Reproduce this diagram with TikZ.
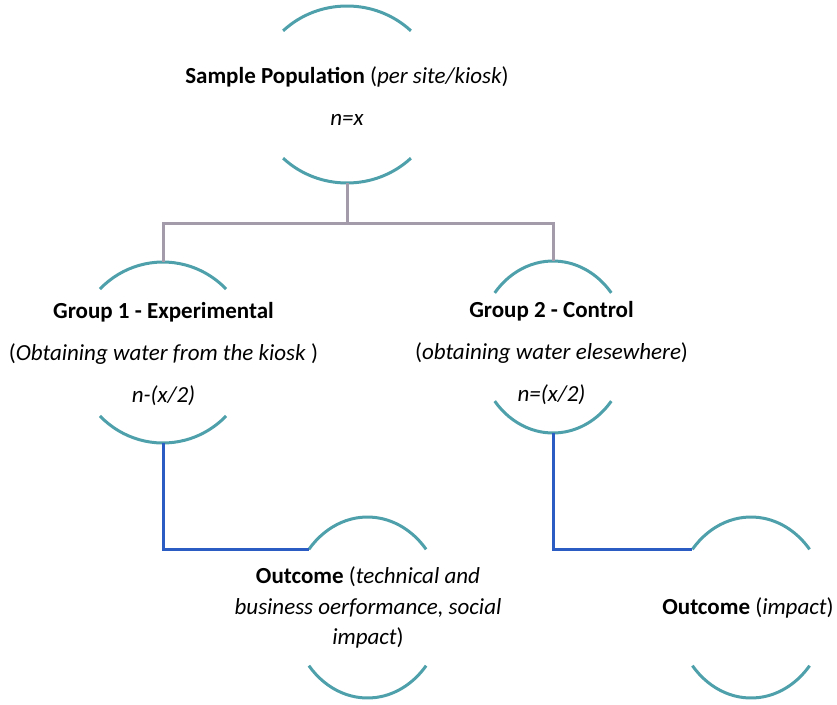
\documentclass[tikz,border=0pt]{standalone}
\usepackage{fontspec}
\setmainfont{Carlito}
\usetikzlibrary{shapes.geometric}
\definecolor{arcteal}{RGB}{78,160,170}
\definecolor{linkgrey}{RGB}{163,155,170}
\definecolor{linkblue}{RGB}{42,92,196}
\newcommand\ringarcs[4]{%
  \draw[ringarc] (#1.center) ++({90+#4}:#2 and #3) arc[start angle={90+#4}, end angle={90-#4}, x radius=#2, y radius=#3];
  \draw[ringarc] (#1.center) ++({270-#4}:#2 and #3) arc[start angle={270-#4}, end angle={270+#4}, x radius=#2, y radius=#3];}
\begin{document}
\begin{tikzpicture}[x=1pt,y=1pt,
  ringarc/.style={draw=arcteal, line width=3pt},
  greylink/.style={draw=linkgrey, line width=3pt},
  bluelink/.style={draw=linkblue, line width=3pt},
  ringshape/.style={ellipse, draw=none, inner sep=0pt},
  ringtext/.style={align=center, inner sep=0pt, font=\fontsize{23}{42}\selectfont},
  outtext/.style={align=center, inner sep=0pt, font=\fontsize{23}{30.5}\selectfont}]
\useasboundingbox (0,0) rectangle (837,-704);
% rings
\node[ringshape, minimum width=184pt, minimum height=177pt] (topring) at (347,-94.5) {};
\node[ringshape, minimum width=177pt, minimum height=181pt] (g1ring) at (163,-352.5) {};
\node[ringshape, minimum width=150pt, minimum height=172pt] (g2ring) at (553,-347) {};
\node[ringshape, minimum width=153pt, minimum height=181pt] (o1ring) at (367.5,-607.5) {};
\node[ringshape, minimum width=153pt, minimum height=181pt] (o2ring) at (751,-607.5) {};
\ringarcs{topring}{92}{88.5}{44}
\ringarcs{g1ring}{88.5}{90.5}{45.5}
\ringarcs{g2ring}{75}{86}{51}
\ringarcs{o1ring}{76.5}{90.5}{50}
\ringarcs{o2ring}{76.5}{90.5}{50}
% texts
\node[ringtext] (toptext) at (347,-96.5) {\textbf{Sample Population} (\textit{per site/kiosk})\\\textit{n=x}};
\node[ringtext] (g1text) at (163.5,-354.5) {\textbf{Group 1 - Experimental}\\(\textit{Obtaining water from the kiosk })\\\textit{n-(x/2)}};
\node[ringtext] (g2text) at (551.5,-353) {\textbf{Group 2 - Control}\\(\textit{obtaining water elesewhere})\\\textit{n=(x/2)}};
\node[outtext] (o1text) at (368,-607.5) {\textbf{Outcome} (\textit{technical and}\\\textit{business oerformance, social}\\\textit{impact})};
\node[outtext] (o2text) at (748,-608) {\textbf{Outcome} (\textit{impact})};
% connectors
\coordinate (split) at (347,-223);
\path (o1ring.center) ++(140:76.5 and 90.5) coordinate (o1in);
\path (o2ring.center) ++(140:76.5 and 90.5) coordinate (o2in);
\draw[greylink] (topring.south) -- (split);
\draw[greylink] (split) -| (g1ring.north);
\draw[greylink] (split) -| (g2ring.north);
\draw[bluelink] (g1ring.south) |- (o1in);
\draw[bluelink] (g2ring.south) |- (o2in);
\end{tikzpicture}
\end{document}
